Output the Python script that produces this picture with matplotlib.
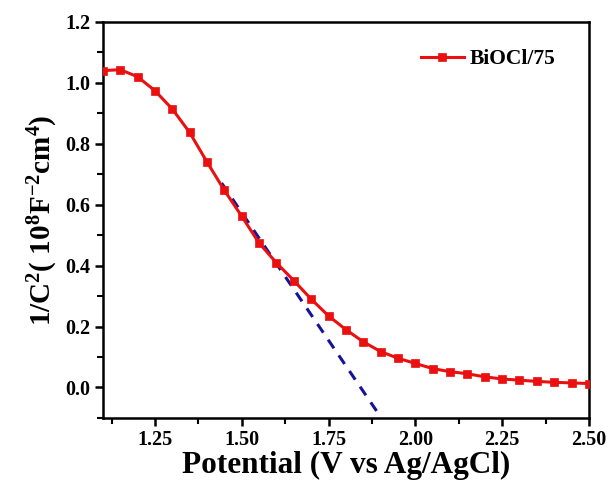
import numpy as np
import matplotlib
matplotlib.use('Agg')
import matplotlib.pyplot as plt
from matplotlib.ticker import MultipleLocator

plt.rcParams['font.family'] = 'Liberation Serif'
plt.rcParams['font.weight'] = 'bold'
plt.rcParams['mathtext.fontset'] = 'custom'
plt.rcParams['mathtext.rm'] = 'Liberation Serif:bold'
plt.rcParams['mathtext.bf'] = 'Liberation Serif:bold'
plt.rcParams['mathtext.it'] = 'Liberation Serif:bold:italic'

# Mott-Schottky data, BiOCl/75
potential = [1.10, 1.15, 1.20, 1.25, 1.30, 1.35, 1.40, 1.45, 1.50, 1.55,
             1.60, 1.65, 1.70, 1.75, 1.80, 1.85, 1.90, 1.95, 2.00, 2.05,
             2.10, 2.15, 2.20, 2.25, 2.30, 2.35, 2.40, 2.45, 2.50]
inv_c2 = [1.040, 1.043, 1.020, 0.974, 0.914, 0.837, 0.740, 0.647, 0.562, 0.474,
          0.409, 0.351, 0.290, 0.235, 0.190, 0.150, 0.118, 0.096, 0.079, 0.062,
          0.052, 0.045, 0.035, 0.028, 0.024, 0.020, 0.017, 0.015, 0.013]

# tangent (flat-band extrapolation)
tangent_x = [1.442, 1.889]
tangent_y = [0.671, -0.078]

fig = plt.figure(figsize=(6.16, 4.86), dpi=100)
ax = fig.add_axes([0.167, 0.140, 0.789, 0.815])

ax.plot(tangent_x, tangent_y, color='#14149a', lw=2.2, ls=(0, (3.4, 2.8)), zorder=2)
ax.plot(potential, inv_c2, color='#ea1010', lw=2.2, marker='s', ms=6, mew=0.5,
        label='BiOCl/75', zorder=3)

ax.set_xlim(1.1, 2.5)
ax.set_ylim(-0.1, 1.2)
ax.xaxis.set_minor_locator(MultipleLocator(0.125))
ax.yaxis.set_minor_locator(MultipleLocator(0.1))
ax.set_xticks([1.25, 1.5, 1.75, 2.0, 2.25, 2.5])
ax.set_xticklabels(['1.25', '1.50', '1.75', '2.00', '2.25', '2.50'])
ax.set_yticks([0.0, 0.2, 0.4, 0.6, 0.8, 1.0, 1.2])
ax.set_yticklabels(['0.0', '0.2', '0.4', '0.6', '0.8', '1.0', '1.2'])

ax.tick_params(which='major', direction='out', length=6, width=1.8, labelsize=14.5, pad=3)
ax.tick_params(which='minor', direction='out', length=4, width=1.5)
for s in ax.spines.values():
    s.set_linewidth(1.8)

ax.set_xlabel('Potential (V vs Ag/AgCl)', fontsize=22.5, fontweight='bold', labelpad=0)
ax.set_ylabel(r'1/C$^2$( 10$^8$F$^{-2}$cm$^4$)', fontsize=21, fontweight='bold', labelpad=4)

ax.legend(loc='upper right', frameon=False, fontsize=15.5, handlelength=2.0,
          handletextpad=0.3, bbox_to_anchor=(0.972, 0.98))

plt.savefig('out.png', dpi=100)
